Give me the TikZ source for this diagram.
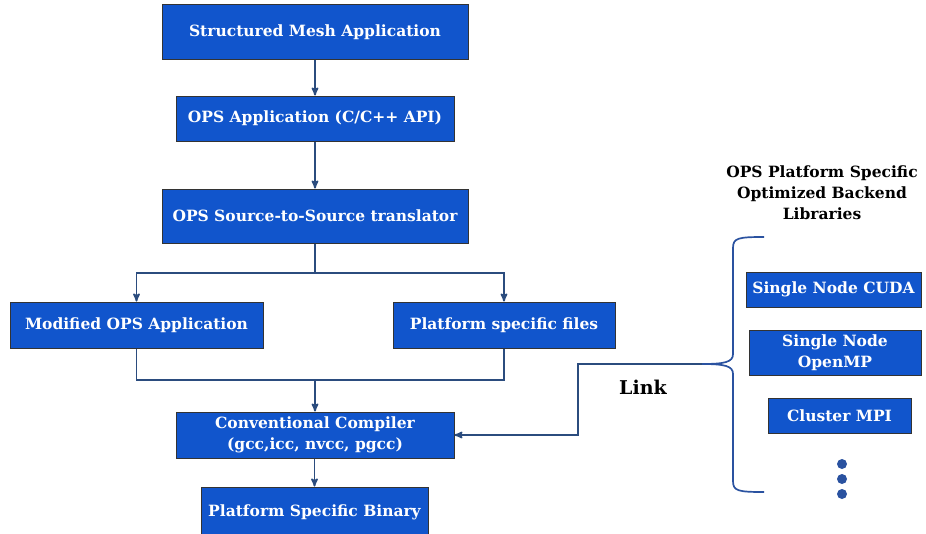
\documentclass[tikz,border=0pt]{standalone}
\usepackage{fontspec}
\setmainfont{DejaVu Serif}
\usetikzlibrary{arrows,positioning}

\definecolor{boxblue}{HTML}{1155CC}
\definecolor{linkblue}{HTML}{2B4C7E}
\definecolor{bracecol}{HTML}{2A52A0}

\begin{document}
\begin{tikzpicture}[x=1pt,y=-1pt,->,>=stealth',line width=1.7pt,
	box/.style={draw=black!80,line width=1pt,fill=boxblue,text=white,inner sep=0pt,align=center,
		font=\bfseries\fontsize{15.5}{21}\selectfont},
	lbl/.style={text=black,align=center,font=\bfseries\fontsize{15.5}{21}\selectfont}]
			\useasboundingbox (0,0) rectangle (926,533);
			\node[box, minimum width=306, minimum height=55] (sma)   at (315,32)    {Structured Mesh Application};
			\node[box, minimum width=278, minimum height=45] (app)   at (315,118.5) {OPS Application (C/C++ API)};
			\node[box, minimum width=306, minimum height=54] (trans) at (315,216)   {OPS Source-to-Source translator};
			\node[box, minimum width=253, minimum height=46] (mod)   at (136.5,325) {Modified OPS Application};
			\node[box, minimum width=222, minimum height=46] (plat)  at (504,325)   {Platform specific files};
			\node[box, minimum width=278, minimum height=46] (comp)  at (315,435)   {Conventional Compiler\\(gcc,icc, nvcc, pgcc)};
			\node[box, minimum width=227, minimum height=50] (bin)   at (314.5,512) {Platform Specific Binary};
			\node[lbl] (title) at (822,193) {OPS Platform Specific\\Optimized Backend\\Libraries};
			\node[box, minimum width=175, minimum height=35] (cuda) at (833.5,289.5) {Single Node CUDA};
			\node[box, minimum width=172, minimum height=45] (omp)  at (835,352.5)   {Single Node\\OpenMP};
			\node[box, minimum width=143, minimum height=35] (mpi)  at (839.5,415.5) {Cluster MPI};
			\node[lbl, font=\bfseries\fontsize{19}{23}\selectfont] (link) at (643,387) {Link};
			\coordinate (split) at (315,273);
			\coordinate (join)  at (315,380);
			\coordinate (tip)   at (702,364);
			\coordinate (bend)  at (578,364);
			\begin{scope}[draw=linkblue]
			\draw (sma) -- (app);
			\draw (app) -- (trans);
			\draw[-] (trans) -- (split);
			\draw (split) -| (mod);
			\draw (split) -| (plat);
			\draw[-] (mod) |- (join);
			\draw[-] (plat) |- (join);
			\draw (join) -- (comp);
			\draw (bin.north |- comp.south) -- (bin);
			\draw (tip) -- (bend) |- (comp.east);
			\end{scope}
			\draw[-,bracecol] (764,237) .. controls (738,237) and (733,238) .. (733,248) -- (733,354)
				.. controls (733,362) and (725,364) .. (tip)
				.. controls (725,364) and (733,366) .. (733,374) -- (733,481)
				.. controls (733,491) and (738,492) .. (764,492);
			\foreach \y in {464,479,494}
				\fill[bracecol] (842,\y) circle (5);
		\end{tikzpicture}
\end{document}
